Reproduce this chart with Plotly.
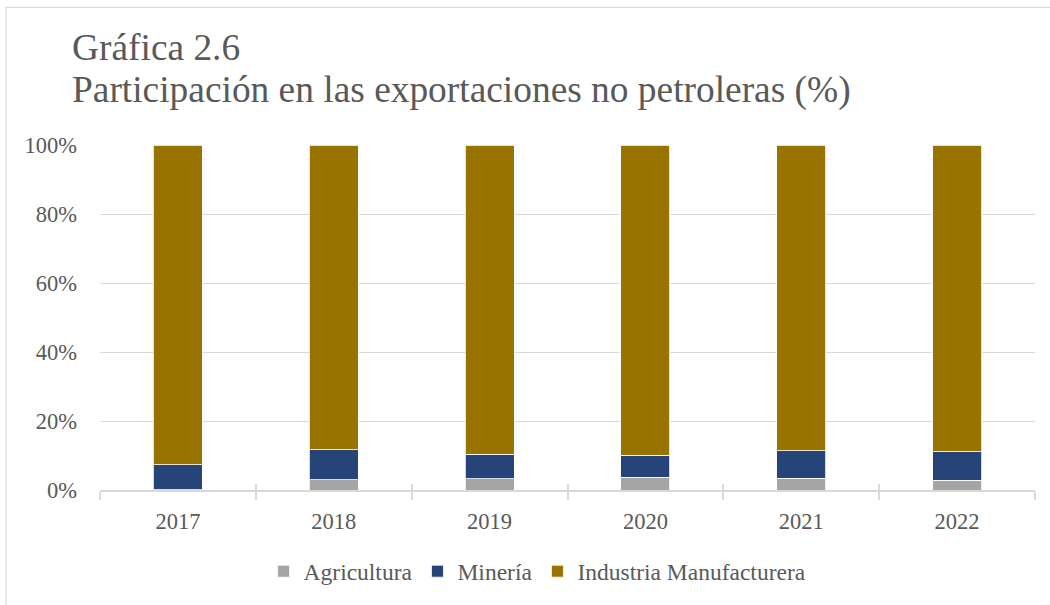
import plotly.graph_objects as go

# Share of non-oil exports by sector (%)
years = ["2017", "2018", "2019", "2020", "2021", "2022"]
agricultura = [0.1, 3.0, 3.3, 3.7, 3.4, 2.9]
mineria = [7.2, 8.6, 7.1, 6.4, 8.0, 8.2]
industria = [round(100 - a - m, 1) for a, m in zip(agricultura, mineria)]

series = [
    ("Agricultura", agricultura, "#A5A5A5"),
    ("Minería", mineria, "#264478"),
    ("Industria Manufacturera", industria, "#997300"),
]

FONT = "Liberation Serif, Times New Roman, serif"
TXT = "#595959"
GRID = "#D9D9D9"

fig = go.Figure()
for name, vals, color in series:
    fig.add_trace(go.Bar(
        x=years, y=vals, name=name,
        marker=dict(color=color, line=dict(color="#FFFFFF", width=0.8)),
    ))

# helper trace so the overlaid axis (inner half of the cross ticks) is drawn
fig.add_trace(go.Scatter(x=years, y=[None] * len(years), xaxis="x2",
                         showlegend=False, hoverinfo="skip"))

fig.update_layout(
    width=1050, height=605,
    margin=dict(l=100, r=15, t=145, b=112),
    paper_bgcolor="white", plot_bgcolor="white",
    barmode="stack", bargap=0.685,
    font=dict(family=FONT, color=TXT, size=22),
    showlegend=True,
    legend=dict(orientation="h", x=0.468, xanchor="center", y=-0.236, yanchor="middle",
                font=dict(family=FONT, size=23.5, color=TXT),
                itemwidth=30, traceorder="normal", bgcolor="rgba(0,0,0,0)"),
    xaxis=dict(type="category", categoryarray=years, showline=True, linecolor=GRID,
               linewidth=1.5, ticks="outside", tickson="boundaries", ticklen=8,
               tickcolor=GRID, tickwidth=1.5, showgrid=False, ticklabelstandoff=10,
               tickfont=dict(family=FONT, size=22.5, color=TXT)),
    xaxis2=dict(type="category", categoryarray=years, overlaying="x", matches="x",
                side="bottom", ticks="inside", tickson="boundaries", ticklen=6,
                tickcolor=GRID, tickwidth=1.5, showticklabels=False, showgrid=False,
                showline=False),
    yaxis=dict(range=[0, 100], dtick=20, ticksuffix="%", showgrid=True, gridcolor=GRID,
               gridwidth=1.2, zeroline=False, showline=False, ticks="",
               ticklabelstandoff=22,
               tickfont=dict(family=FONT, size=22.5, color=TXT)),
    shapes=[dict(type="rect", xref="paper", yref="paper",
                 x0=-0.1005, x1=1.03, y0=-0.36, y1=1.399,
                 line=dict(color=GRID, width=1.2), fillcolor="rgba(0,0,0,0)",
                 layer="below")],
    annotations=[
        dict(text="Gráfica 2.6", xref="paper", yref="paper", x=-0.032, y=1.282,
             xanchor="left", yanchor="middle", showarrow=False,
             font=dict(family=FONT, size=37.4, color=TXT)),
        dict(text="Participación en las exportaciones no petroleras (%)",
             xref="paper", yref="paper", x=-0.032, y=1.158,
             xanchor="left", yanchor="middle", showarrow=False,
             font=dict(family=FONT, size=37.4, color=TXT)),
    ],
)

fig.write_html("out.html")
